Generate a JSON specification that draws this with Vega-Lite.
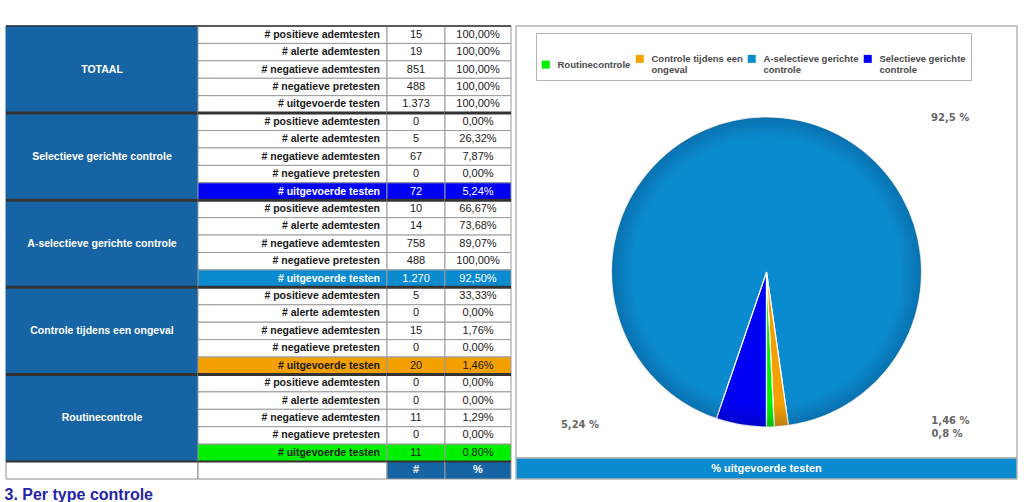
{
  "$schema": "https://vega.github.io/schema/vega-lite/v6.json",
  "padding": {"left": 4, "top": 25, "right": 4, "bottom": 0},
  "background": "white",
  "config": {
    "view": {"stroke": null},
    "font": "Liberation Sans",
    "locale": {"number": {"decimal": ",", "thousands": ".", "grouping": [3], "currency": ["€", ""]}}
  },
  "datasets": {
    "tbl": [
      {"i": 1, "grp": "TOTAAL", "label": "# positieve ademtesten", "n": 15, "pct": 1},
      {"i": 2, "grp": "TOTAAL", "label": "# alerte ademtesten", "n": 19, "pct": 1},
      {"i": 3, "grp": "TOTAAL", "label": "# negatieve ademtesten", "n": 851, "pct": 1},
      {"i": 4, "grp": "TOTAAL", "label": "# negatieve pretesten", "n": 488, "pct": 1},
      {"i": 5, "grp": "TOTAAL", "label": "# uitgevoerde testen", "n": 1373, "pct": 1},
      {"i": 6, "grp": "Selectieve gerichte controle", "label": "# positieve ademtesten", "n": 0, "pct": 0},
      {"i": 7, "grp": "Selectieve gerichte controle", "label": "# alerte ademtesten", "n": 5, "pct": 0.2632},
      {"i": 8, "grp": "Selectieve gerichte controle", "label": "# negatieve ademtesten", "n": 67, "pct": 0.0787},
      {"i": 9, "grp": "Selectieve gerichte controle", "label": "# negatieve pretesten", "n": 0, "pct": 0},
      {"i": 10, "grp": "Selectieve gerichte controle", "label": "# uitgevoerde testen", "n": 72, "pct": 0.0524},
      {"i": 11, "grp": "A-selectieve gerichte controle", "label": "# positieve ademtesten", "n": 10, "pct": 0.6667},
      {"i": 12, "grp": "A-selectieve gerichte controle", "label": "# alerte ademtesten", "n": 14, "pct": 0.7368},
      {"i": 13, "grp": "A-selectieve gerichte controle", "label": "# negatieve ademtesten", "n": 758, "pct": 0.8907},
      {"i": 14, "grp": "A-selectieve gerichte controle", "label": "# negatieve pretesten", "n": 488, "pct": 1},
      {"i": 15, "grp": "A-selectieve gerichte controle", "label": "# uitgevoerde testen", "n": 1270, "pct": 0.925},
      {"i": 16, "grp": "Controle tijdens een ongeval", "label": "# positieve ademtesten", "n": 5, "pct": 0.3333},
      {"i": 17, "grp": "Controle tijdens een ongeval", "label": "# alerte ademtesten", "n": 0, "pct": 0},
      {"i": 18, "grp": "Controle tijdens een ongeval", "label": "# negatieve ademtesten", "n": 15, "pct": 0.0176},
      {"i": 19, "grp": "Controle tijdens een ongeval", "label": "# negatieve pretesten", "n": 0, "pct": 0},
      {"i": 20, "grp": "Controle tijdens een ongeval", "label": "# uitgevoerde testen", "n": 20, "pct": 0.0146},
      {"i": 21, "grp": "Routinecontrole", "label": "# positieve ademtesten", "n": 0, "pct": 0},
      {"i": 22, "grp": "Routinecontrole", "label": "# alerte ademtesten", "n": 0, "pct": 0},
      {"i": 23, "grp": "Routinecontrole", "label": "# negatieve ademtesten", "n": 11, "pct": 0.0129},
      {"i": 24, "grp": "Routinecontrole", "label": "# negatieve pretesten", "n": 0, "pct": 0},
      {"i": 25, "grp": "Routinecontrole", "label": "# uitgevoerde testen", "n": 11, "pct": 0.008}
    ],
    "hdr": [{"i": 26, "c3": "#", "c4": "%"}]
  },
  "spacing": 2,
  "resolve": {"scale": {"color": "independent", "fill": "independent"}, "legend": {"color": "independent", "fill": "independent"}},
  "hconcat": [
    {
      "spacing": 0,
      "bounds": "flush",
      "title": {"text": "3. Per type controle", "orient": "bottom", "anchor": "start", "fontSize": 16, "fontWeight": "bold", "color": "#2424a8", "font": "Liberation Sans", "offset": 7},
      "hconcat": [
        {
          "width": 192, "height": 453,
          "layer": [
            {"data": {"name": "tbl"}, "mark": {"type": "rect", "fill": "#1764a5", "stroke": "#1764a5", "strokeWidth": 1},
             "encoding": {"y": {"field": "i", "type": "ordinal", "axis": null, "scale": {"type": "band", "paddingInner": 0, "paddingOuter": 0, "domain": [1,2,3,4,5,6,7,8,9,10,11,12,13,14,15,16,17,18,19,20,21,22,23,24,25,26]}}}},
            {"data": {"name": "hdr"}, "mark": {"type": "rect", "fill": "white", "stroke": "#8a8a8a", "strokeWidth": 1},
             "encoding": {"y": {"field": "i", "type": "ordinal", "axis": null}}},
            {"data": {"name": "tbl"}, "transform": [{"filter": "datum.label == '# negatieve ademtesten'"}],
             "mark": {"type": "text", "color": "white", "fontWeight": "bold", "fontSize": 10.5},
             "encoding": {"y": {"field": "i", "type": "ordinal", "axis": null}, "text": {"field": "grp"}}},
            {"data": {"name": "tbl"}, "transform": [{"filter": "datum.label == '# positieve ademtesten'"}],
             "mark": {"type": "rule", "color": "#333333"},
             "encoding": {"y": {"field": "i", "type": "ordinal", "axis": null, "bandPosition": 0},
               "strokeWidth": {"condition": {"test": "datum.i == 1", "value": 1.5}, "value": 3}}},
            {"data": {"name": "hdr"}, "mark": {"type": "rule", "color": "#333333", "strokeWidth": 2},
             "encoding": {"y": {"field": "i", "type": "ordinal", "axis": null, "bandPosition": 0}}}
          ]
        },
        {
          "width": 189, "height": 453,
          "layer": [
            {"data": {"name": "tbl"}, "mark": {"type": "rect", "stroke": "#9a9a9a", "strokeWidth": 1},
             "encoding": {
               "y": {"field": "i", "type": "ordinal", "axis": null, "scale": {"type": "band", "paddingInner": 0, "paddingOuter": 0, "domain": [1,2,3,4,5,6,7,8,9,10,11,12,13,14,15,16,17,18,19,20,21,22,23,24,25,26]}},
               "fill": {"condition": {"test": "datum.label == '# uitgevoerde testen' && datum.grp != 'TOTAAL'", "field": "grp", "type": "nominal", "legend": null,
                 "scale": {"domain": ["Routinecontrole", "Controle tijdens een ongeval", "A-selectieve gerichte controle", "Selectieve gerichte controle"], "range": ["#00f000", "#f3a000", "#0b8bcf", "#0000f5"]}}, "value": "white"}
             }},
            {"data": {"name": "tbl"}, "mark": {"type": "text", "align": "right", "dx": -7, "fontWeight": "bold", "fontSize": 10.5},
             "encoding": {
               "y": {"field": "i", "type": "ordinal", "axis": null},
               "x": {"value": "width"},
               "text": {"field": "label"},
               "color": {"condition": {"test": "datum.label == '# uitgevoerde testen' && (datum.grp == 'Selectieve gerichte controle' || datum.grp == 'A-selectieve gerichte controle')", "value": "white"}, "value": "#1a1a1a"}
             }},
            {"data": {"name": "hdr"}, "mark": {"type": "rect", "fill": "white", "stroke": "#8a8a8a", "strokeWidth": 1},
             "encoding": {"y": {"field": "i", "type": "ordinal", "axis": null}}},
            {"data": {"name": "tbl"}, "transform": [{"filter": "datum.label == '# positieve ademtesten'"}],
             "mark": {"type": "rule", "color": "#333333"},
             "encoding": {"y": {"field": "i", "type": "ordinal", "axis": null, "bandPosition": 0},
               "strokeWidth": {"condition": {"test": "datum.i == 1", "value": 1.5}, "value": 3}}},
            {"data": {"name": "hdr"}, "mark": {"type": "rule", "color": "#333333", "strokeWidth": 2},
             "encoding": {"y": {"field": "i", "type": "ordinal", "axis": null, "bandPosition": 0}}}
          ]
        },
        {
          "width": 58, "height": 453,
          "layer": [
            {"data": {"name": "tbl"}, "mark": {"type": "rect", "stroke": "#9a9a9a", "strokeWidth": 1},
             "encoding": {
               "y": {"field": "i", "type": "ordinal", "axis": null, "scale": {"type": "band", "paddingInner": 0, "paddingOuter": 0, "domain": [1,2,3,4,5,6,7,8,9,10,11,12,13,14,15,16,17,18,19,20,21,22,23,24,25,26]}},
               "fill": {"condition": {"test": "datum.label == '# uitgevoerde testen' && datum.grp != 'TOTAAL'", "field": "grp", "type": "nominal", "legend": null,
                 "scale": {"domain": ["Routinecontrole", "Controle tijdens een ongeval", "A-selectieve gerichte controle", "Selectieve gerichte controle"], "range": ["#00f000", "#f3a000", "#0b8bcf", "#0000f5"]}}, "value": "white"}
             }},
            {"data": {"name": "tbl"}, "mark": {"type": "text", "fontSize": 11},
             "encoding": {
               "y": {"field": "i", "type": "ordinal", "axis": null},
               "text": {"field": "n", "type": "quantitative", "format": ",d"},
               "color": {"condition": {"test": "datum.label == '# uitgevoerde testen' && (datum.grp == 'Selectieve gerichte controle' || datum.grp == 'A-selectieve gerichte controle')", "value": "white"}, "value": "#1a1a1a"}
             }},
            {"data": {"name": "hdr"}, "mark": {"type": "rect", "fill": "#1764a5", "stroke": "#9a9a9a", "strokeWidth": 1},
             "encoding": {"y": {"field": "i", "type": "ordinal", "axis": null}}},
            {"data": {"name": "hdr"}, "mark": {"type": "text", "color": "white", "fontWeight": "bold", "fontSize": 11},
             "encoding": {"y": {"field": "i", "type": "ordinal", "axis": null}, "text": {"field": "c3"}}},
            {"data": {"name": "tbl"}, "transform": [{"filter": "datum.label == '# positieve ademtesten'"}],
             "mark": {"type": "rule", "color": "#333333"},
             "encoding": {"y": {"field": "i", "type": "ordinal", "axis": null, "bandPosition": 0},
               "strokeWidth": {"condition": {"test": "datum.i == 1", "value": 1.5}, "value": 3}}},
            {"data": {"name": "hdr"}, "mark": {"type": "rule", "color": "#333333", "strokeWidth": 2},
             "encoding": {"y": {"field": "i", "type": "ordinal", "axis": null, "bandPosition": 0}}}
          ]
        },
        {
          "width": 66, "height": 453,
          "layer": [
            {"data": {"name": "tbl"}, "mark": {"type": "rect", "stroke": "#9a9a9a", "strokeWidth": 1},
             "encoding": {
               "y": {"field": "i", "type": "ordinal", "axis": null, "scale": {"type": "band", "paddingInner": 0, "paddingOuter": 0, "domain": [1,2,3,4,5,6,7,8,9,10,11,12,13,14,15,16,17,18,19,20,21,22,23,24,25,26]}},
               "fill": {"condition": {"test": "datum.label == '# uitgevoerde testen' && datum.grp != 'TOTAAL'", "field": "grp", "type": "nominal", "legend": null,
                 "scale": {"domain": ["Routinecontrole", "Controle tijdens een ongeval", "A-selectieve gerichte controle", "Selectieve gerichte controle"], "range": ["#00f000", "#f3a000", "#0b8bcf", "#0000f5"]}}, "value": "white"}
             }},
            {"data": {"name": "tbl"}, "mark": {"type": "text", "fontSize": 11},
             "encoding": {
               "y": {"field": "i", "type": "ordinal", "axis": null},
               "text": {"field": "pct", "type": "quantitative", "format": ".2%"},
               "color": {"condition": {"test": "datum.label == '# uitgevoerde testen' && (datum.grp == 'Selectieve gerichte controle' || datum.grp == 'A-selectieve gerichte controle')", "value": "white"}, "value": "#1a1a1a"}
             }},
            {"data": {"name": "hdr"}, "mark": {"type": "rect", "fill": "#1764a5", "stroke": "#9a9a9a", "strokeWidth": 1},
             "encoding": {"y": {"field": "i", "type": "ordinal", "axis": null}}},
            {"data": {"name": "hdr"}, "mark": {"type": "text", "color": "white", "fontWeight": "bold", "fontSize": 11},
             "encoding": {"y": {"field": "i", "type": "ordinal", "axis": null}, "text": {"field": "c4"}}},
            {"data": {"name": "tbl"}, "transform": [{"filter": "datum.label == '# positieve ademtesten'"}],
             "mark": {"type": "rule", "color": "#333333"},
             "encoding": {"y": {"field": "i", "type": "ordinal", "axis": null, "bandPosition": 0},
               "strokeWidth": {"condition": {"test": "datum.i == 1", "value": 1.5}, "value": 3}}},
            {"data": {"name": "hdr"}, "mark": {"type": "rule", "color": "#333333", "strokeWidth": 2},
             "encoding": {"y": {"field": "i", "type": "ordinal", "axis": null, "bandPosition": 0}}}
          ]
        }
      ]
    },
    {
      "spacing": 0,
      "bounds": "flush",
      "resolve": {"scale": {"color": "independent"}, "legend": {"color": "independent"}},
      "vconcat": [
        {
          "width": 501, "height": 60,
          "view": {"stroke": "#b4b4b4", "strokeWidth": 1.5, "strokeDash": [561, 501, 62]},
          "data": {"name": "tbl"},
          "transform": [{"filter": "datum.label == '# uitgevoerde testen' && datum.grp != 'TOTAAL'"}],
          "mark": {"type": "square", "opacity": 0},
          "encoding": {
            "color": {"field": "grp", "type": "nominal",
              "scale": {"domain": ["Routinecontrole", "Controle tijdens een ongeval", "A-selectieve gerichte controle", "Selectieve gerichte controle"], "range": ["#00f000", "#f3a000", "#0b8bcf", "#0000f5"]},
              "legend": {
                "title": " ", "titleFontSize": 10, "titlePadding": 6,
                "orient": "none", "legendX": 20, "legendY": 7,
                "direction": "horizontal", "columns": 4,
                "symbolType": "square", "symbolSize": 64, "symbolOpacity": 1, "symbolStrokeWidth": 0,
                "labelFont": "Liberation Sans", "labelFontSize": 9.5, "labelFontWeight": "bold", "labelColor": "#4a4a4a",
                "labelLimit": 200, "labelOffset": 7, "columnPadding": 4,
                "labelExpr": "lastindexof(datum.label, ' ') > 0 ? [substring(datum.label, 0, lastindexof(datum.label, ' ')), substring(datum.label, lastindexof(datum.label, ' ') + 1)] : datum.label",
                "strokeColor": "#b4b4b4", "padding": 5
              }
            }
          }
        },
        {
          "width": 501, "height": 372,
          "view": {"stroke": "#b4b4b4", "strokeWidth": 1.5, "strokeDash": [0, 501, 1400]},
          "layer": [
            {
              "data": {"name": "tbl"},
              "transform": [
                {"filter": "datum.label == '# uitgevoerde testen' && datum.grp != 'TOTAAL'"},
                {"calculate": "replace(format(datum.pct * 100, '.3~r'), '.', ',') + ' %'", "as": "lbl"}
              ],
              "encoding": {
                "theta": {"field": "n", "type": "quantitative", "stack": true, "scale": {"range": [3.14159265, 9.42477796]}},
                "order": {"field": "i", "type": "quantitative"},
                "detail": {"field": "grp", "type": "nominal"}
              },
              "layer": [
                {"mark": {"type": "arc", "outerRadius": 155, "stroke": "white", "strokeWidth": 1.2},
                 "encoding": {"color": {"field": "grp", "type": "nominal", "legend": null,
                   "scale": {"domain": ["Routinecontrole", "Controle tijdens een ongeval", "A-selectieve gerichte controle", "Selectieve gerichte controle"], "range": ["#00f000", "#f3a000", "#0b8bcf", "#0000f5"]}}}},
                {"mark": {"type": "text", "radius": 155, "dx": 150, "dy": 0, "align": "left", "baseline": "middle", "font": "DejaVu Sans", "fontSize": 10, "fontWeight": "bold", "color": "#666666"},
                 "encoding": {"text": {"condition": {"test": "datum.grp == 'A-selectieve gerichte controle'", "field": "lbl"}, "value": ""}}},
                {"mark": {"type": "text", "radius": 155, "dx": -142, "dy": 0, "align": "right", "baseline": "middle", "font": "DejaVu Sans", "fontSize": 10, "fontWeight": "bold", "color": "#666666"},
                 "encoding": {"text": {"condition": {"test": "datum.grp == 'Selectieve gerichte controle'", "field": "lbl"}, "value": ""}}},
                {"mark": {"type": "text", "radius": 155, "dx": 150, "dy": -5, "align": "left", "baseline": "middle", "font": "DejaVu Sans", "fontSize": 10, "fontWeight": "bold", "color": "#666666"},
                 "encoding": {"text": {"condition": {"test": "datum.grp == 'Controle tijdens een ongeval'", "field": "lbl"}, "value": ""}}},
                {"mark": {"type": "text", "radius": 155, "dx": 161, "dy": 7, "align": "left", "baseline": "middle", "font": "DejaVu Sans", "fontSize": 10, "fontWeight": "bold", "color": "#666666"},
                 "encoding": {"text": {"condition": {"test": "datum.grp == 'Routinecontrole'", "field": "lbl"}, "value": ""}}}
              ]
            },
            {
              "data": {"values": [{"k": "rim"}]},
              "mark": {"type": "arc", "outerRadius": 155,
                "fill": {"gradient": "radial", "x1": 0.5, "y1": 0.5, "r1": 0, "x2": 0.5, "y2": 0.5, "r2": 0.5,
                  "stops": [{"offset": 0, "color": "rgba(0,20,60,0)"}, {"offset": 0.86, "color": "rgba(0,20,60,0)"}, {"offset": 1, "color": "rgba(0,20,60,0.22)"}]}},
              "encoding": {}
            }
          ]
        },
        {
          "width": 501, "height": 21,
          "view": {"fill": "#0b8bcf", "stroke": "#b4b4b4", "strokeWidth": 1.5},
          "data": {"values": [{"t": "% uitgevoerde testen"}]},
          "mark": {"type": "text", "color": "white", "fontWeight": "bold", "fontSize": 11},
          "encoding": {"text": {"field": "t", "type": "nominal"}}
        }
      ]
    }
  ]
}
